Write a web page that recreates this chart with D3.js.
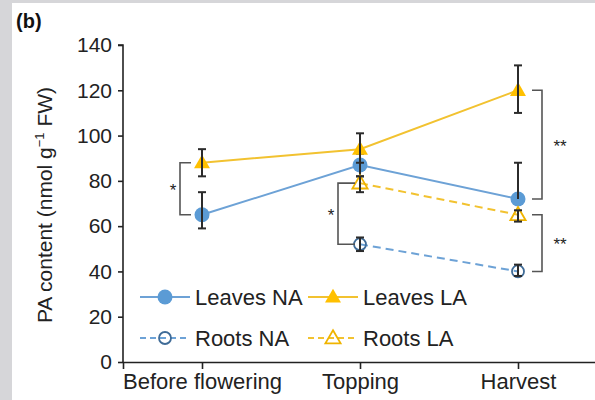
<!DOCTYPE html>
<html>
<head>
<meta charset="utf-8">
<script src="https://cdn.jsdelivr.net/npm/d3@7"></script>
<style>
  body { margin: 0; background: #fff; }
  svg { display: block; font-family: "Liberation Sans", Arial, sans-serif; }
</style>
</head>
<body>
<svg id="chart" width="595" height="400"></svg>
<script>
// categories and values
var stages = ['Before flowering', 'Topping', 'Harvest'];
var yTicks = [0, 20, 40, 60, 80, 100, 120, 140];

var leavesNA    = [65, 87, 72];
var leavesNAHi  = [75, 92, 88];
var leavesNALo  = [59, 82, 72];

var leavesLA    = [88, 94, 120];
var leavesLAHi  = [94, 101, 131];
var leavesLALo  = [82, 88, 110];

// roots were only sampled at topping and harvest
var rootsStages = ['Topping', 'Harvest'];
var rootsNA     = [52, 40];
var rootsNAHi   = [55, 43];
var rootsNALo   = [49, 38];

var rootsLA     = [79, 65];
var rootsLAHi   = [82, 67];
var rootsLALo   = [75, 62];

// significance brackets: [stage, value top, value bottom, label, side]
var brackets = [
    ['Before flowering', 88, 65, '*', 'left'],
    ['Topping', 79, 52, '*', 'left'],
    ['Harvest', 120, 72, '**', 'right'],
    ['Harvest', 65, 40, '**', 'right']
];

var blue = '#5b9bd5', blueLine = '#6da2d6', blueDark = '#3f6b97';
var gold = '#ffc000', goldLine = '#f2c230';

var svg = d3.select('#chart');

// grey page frame from the source figure
svg.append('rect').attr('x', 0).attr('y', 0).attr('width', 595).attr('height', 400).attr('fill', '#d6d6d9');
svg.append('rect').attr('x', 12).attr('y', 3).attr('width', 583).attr('height', 397).attr('fill', '#fff');

svg.append('text')
    .attr('x', 16).attr('y', 28)
    .attr('font-size', 20).attr('font-weight', 'bold')
    .attr('fill', '#111')
    .text('(b)');

var x = d3.scalePoint().domain(stages).range([123, 597]).padding(0.5);
var y = d3.scaleLinear().domain([0, 140]).range([362, 45]);

// axes
var yAxis = svg.append('g')
    .attr('transform', 'translate(123,0)')
    .call(d3.axisLeft(y).tickValues(yTicks).tickSize(5).tickPadding(6));
var xAxis = svg.append('g')
    .attr('transform', 'translate(0,362)')
    .call(d3.axisBottom(x).tickSize(7).tickPadding(4));

[yAxis, xAxis].forEach(function(ax){
    ax.select('.domain').attr('stroke', '#222').attr('stroke-width', 1.6);
    ax.selectAll('.tick line').attr('stroke', '#222').attr('stroke-width', 1.6);
    ax.selectAll('.tick text')
        .attr('fill', '#222')
        .attr('font-family', '"Liberation Sans", Arial, sans-serif');
});
yAxis.selectAll('.tick text').attr('font-size', 21);
xAxis.selectAll('.tick text').attr('font-size', 22);
// y axis domain without the outer tick at the bottom
yAxis.select('.domain').attr('d', 'M-5,' + y(140) + 'H0V' + y(0));

var title = svg.append('text')
    .attr('transform', 'translate(52,' + 205 + ') rotate(-90)')
    .attr('text-anchor', 'middle')
    .attr('font-size', 21)
    .attr('fill', '#222');
title.append('tspan').text('PA content (nmol g');
title.append('tspan').attr('font-size', 13).attr('dy', -8).text('\u22121');
title.append('tspan').attr('dy', 8).text(' FW)');

// series table
var series = [
    {name: 'Leaves NA', cats: stages, v: leavesNA, hi: leavesNAHi, lo: leavesNALo, line: blueLine, mark: blue, shape: 'circle', filled: true, dash: null},
    {name: 'Leaves LA', cats: stages, v: leavesLA, hi: leavesLAHi, lo: leavesLALo, line: goldLine, mark: gold, shape: 'triangle', filled: true, dash: null},
    {name: 'Roots NA', cats: rootsStages, v: rootsNA, hi: rootsNAHi, lo: rootsNALo, line: blueLine, mark: blueDark, shape: 'circle', filled: false, dash: '8,5'},
    {name: 'Roots LA', cats: rootsStages, v: rootsLA, hi: rootsLAHi, lo: rootsLALo, line: goldLine, mark: '#f0b400', shape: 'triangle', filled: false, dash: '8,5'}
];

function pts(s) {
    return s.cats.map(function(c, i){
        return {c: c, v: s.v[i], hi: s.hi[i], lo: s.lo[i]};
    });
}

var line = d3.line().x(function(d){ return x(d.c); }).y(function(d){ return y(d.v); });

// lines
series.forEach(function(s){
    svg.append('path')
        .datum(pts(s))
        .attr('d', line)
        .attr('fill', 'none')
        .attr('stroke', s.line)
        .attr('stroke-width', 2)
        .attr('stroke-dasharray', s.dash);
});

function marker(g, s, cx, cy) {
    if (s.shape === 'circle') {
        g.append('circle')
            .attr('cx', cx).attr('cy', cy)
            .attr('r', s.filled ? 7.5 : 6)
            .attr('fill', s.filled ? s.mark : 'none')
            .attr('stroke', s.mark)
            .attr('stroke-width', s.filled ? 0 : 1.8);
    } else {
        var sym = d3.symbol().type(d3.symbolTriangle).size(s.filled ? 110 : 100);
        g.append('path')
            .attr('transform', 'translate(' + cx + ',' + (cy + 1) + ')')
            .attr('d', sym())
            .attr('fill', s.filled ? s.mark : 'none')
            .attr('stroke', s.mark)
            .attr('stroke-width', s.filled ? 0 : 1.8);
    }
}

// filled markers sit over their error bars, hollow ones show the bar through them
function errBars(s) {
    var g = svg.append('g').attr('stroke', '#2b2b2b').attr('stroke-width', 2);
    pts(s).forEach(function(d){
        var cx = x(d.c);
        if (d.hi === d.lo) return;
        g.append('line').attr('x1', cx).attr('x2', cx).attr('y1', y(d.hi)).attr('y2', y(d.lo));
        if (d.hi > d.v) g.append('line').attr('x1', cx - 4).attr('x2', cx + 4).attr('y1', y(d.hi)).attr('y2', y(d.hi));
        if (d.lo < d.v) g.append('line').attr('x1', cx - 4).attr('x2', cx + 4).attr('y1', y(d.lo)).attr('y2', y(d.lo));
    });
}

series.forEach(function(s){
    var g = svg.append('g');
    if (s.filled) {
        errBars(s);
        pts(s).forEach(function(d){ marker(g, s, x(d.c), y(d.v)); });
    } else {
        pts(s).forEach(function(d){ marker(g, s, x(d.c), y(d.v)); });
        errBars(s);
    }
});

// significance brackets
brackets.forEach(function(b){
    var cx = x(b[0]);
    var y1 = y(b[1]), y2 = y(b[2]);
    var g = svg.append('g');
    var bx, tx, lx;
    if (b[4] === 'left') {
        bx = cx - 22; lx = cx - 11;
        tx = cx - 29;
        if (b[0] === 'Topping') { lx = cx - 5; }
    } else {
        bx = cx + 24; lx = cx + 14;
        tx = cx + 42;
    }
    g.append('path')
        .attr('d', 'M' + lx + ',' + y1 + 'H' + bx + 'V' + y2 + 'H' + lx)
        .attr('fill', 'none')
        .attr('stroke', '#555')
        .attr('stroke-width', 1.6);
    g.append('text')
        .attr('x', tx).attr('y', (y1 + y2) / 2 + 7)
        .attr('text-anchor', 'middle')
        .attr('font-size', 17)
        .attr('fill', '#222')
        .text(b[3]);
});

// legend
var legendRows = [
    {s: series[0], x: 140, y: 297},
    {s: series[1], x: 308, y: 297},
    {s: series[2], x: 140, y: 338},
    {s: series[3], x: 308, y: 338}
];
legendRows.forEach(function(r){
    var g = svg.append('g');
    g.append('line')
        .attr('x1', r.x).attr('x2', r.x + 50)
        .attr('y1', r.y).attr('y2', r.y)
        .attr('stroke', r.s.line)
        .attr('stroke-width', 2)
        .attr('stroke-dasharray', r.s.dash ? '6,4' : null);
    marker(g, r.s, r.x + 25, r.y);
    g.append('text')
        .attr('x', r.x + 55).attr('y', r.y + 8)
        .attr('font-size', 22)
        .attr('fill', '#222')
        .text(r.s.name);
});
</script>
</body>
</html>
